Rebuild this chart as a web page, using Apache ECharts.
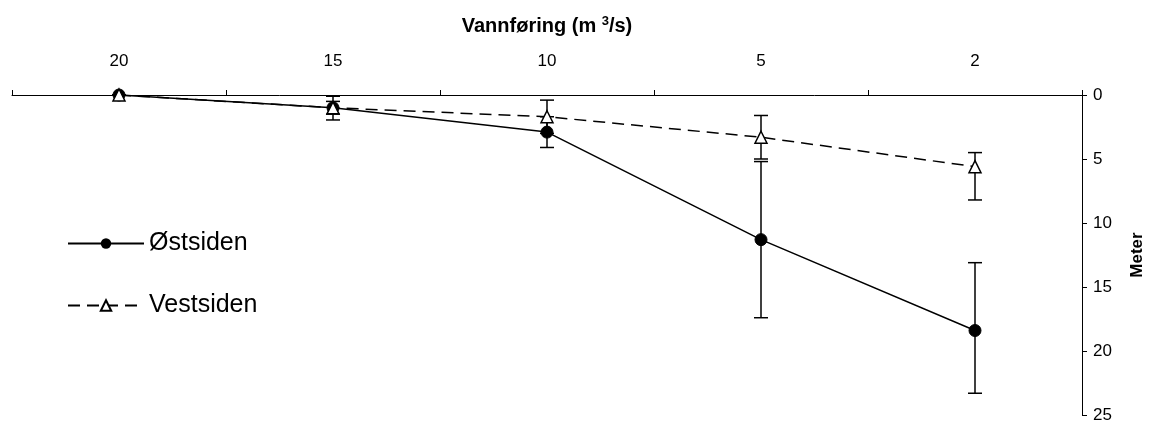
<!DOCTYPE html>
<html>
<head>
<meta charset="utf-8">
<script src="https://cdn.jsdelivr.net/npm/echarts@6/dist/echarts.min.js"></script>
<style>
html,body{margin:0;padding:0;background:#fff;}
#chart{width:1149px;height:422px;}
</style>
</head>
<body>
<div id="chart"></div>
<script>
const categories = ['20', '15', '10', '5', '2'];
const eastValues = [0, 1.0, 2.9, 11.3, 18.4];
const eastLow = [0, 0.1, 1.7, 5.2, 13.1];
const eastHigh = [0, 1.95, 4.1, 17.4, 23.3];
const westValues = [0, 1.0, 1.7, 3.3, 5.6];
const westLow = [0, 0.5, 0.4, 1.6, 4.5];
const westHigh = [0, 1.5, 3.0, 5.0, 8.2];
const yTicks = [0, 5, 10, 15, 20, 25];

const FONT = 'Liberation Sans, Arial, sans-serif';
const chart = echarts.init(document.getElementById('chart'), null, {renderer: 'canvas'});

function errData(lows, highs) {
  return lows.map((v, i) => [i, v, highs[i]]);
}
function errRender(params, api) {
  const x = api.value(0);
  const lo = api.coord([x, api.value(1)]);
  const hi = api.coord([x, api.value(2)]);
  const w = 7;
  const style = {stroke: '#000', lineWidth: 1.5};
  return {
    type: 'group',
    children: [
      {type: 'line', shape: {x1: lo[0], y1: lo[1], x2: hi[0], y2: hi[1]}, style},
      {type: 'line', shape: {x1: lo[0] - w, y1: lo[1], x2: lo[0] + w, y2: lo[1]}, style},
      {type: 'line', shape: {x1: hi[0] - w, y1: hi[1], x2: hi[0] + w, y2: hi[1]}, style}
    ]
  };
}

const option = {
  animation: false,
  backgroundColor: '#fff',
  textStyle: {fontFamily: FONT},
  grid: {left: 12, right: 67, top: 95, bottom: 7, containLabel: false, outerBoundsMode: 'none'},
  legend: {
    data: ['Østsiden', 'Vestsiden'],
    orient: 'vertical',
    left: 62,
    top: 226,
    itemWidth: 76,
    itemHeight: 13,
    itemGap: 37,
    textStyle: {fontFamily: FONT, fontSize: 25, color: '#000'},
    inactiveColor: '#000'
  },
  xAxis: {
    type: 'category',
    position: 'top',
    data: categories,
    boundaryGap: true,
    name: '{b|Vannføring (m }{sup|3}{b|/s)}',
    nameLocation: 'middle',
    nameGap: 58,
    nameTextStyle: {
      fontFamily: FONT, fontSize: 20, fontWeight: 'bold', color: '#000',
      rich: {
        b: {fontFamily: FONT, fontSize: 20, fontWeight: 'bold', color: '#000', lineHeight: 22},
        sup: {fontFamily: FONT, fontSize: 13, fontWeight: 'bold', color: '#000', verticalAlign: 'top', lineHeight: 22, padding: [0, 0, 8, 0]}
      }
    },
    axisLine: {show: true, lineStyle: {color: '#000', width: 1}},
    axisTick: {show: true, alignWithLabel: false, length: 5, lineStyle: {color: '#000'}},
    axisLabel: {fontFamily: FONT, fontSize: 17, color: '#000', margin: 25},
    splitLine: {show: false}
  },
  yAxis: {
    type: 'value',
    position: 'right',
    inverse: true,
    min: 0,
    max: 25,
    interval: 5,
    name: 'Meter',
    nameLocation: 'middle',
    nameGap: 47,
    nameRotate: 90,
    nameTextStyle: {fontFamily: FONT, fontSize: 17, fontWeight: 'bold', color: '#000'},
    axisLine: {show: true, lineStyle: {color: '#000', width: 1}},
    axisTick: {show: true, length: 5, lineStyle: {color: '#000'}},
    axisLabel: {fontFamily: FONT, fontSize: 17, color: '#000', margin: 11,
      formatter: v => yTicks.includes(v) ? String(v) : ''},
    splitLine: {show: false}
  },
  series: [
    {
      name: 'Østsiden errors',
      type: 'custom',
      renderItem: errRender,
      data: errData(eastLow, eastHigh),
      z: 1
    },
    {
      name: 'Vestsiden errors',
      type: 'custom',
      renderItem: errRender,
      data: errData(westLow, westHigh),
      z: 1
    },
    {
      name: 'Østsiden',
      type: 'line',
      data: eastValues,
      symbol: 'circle',
      symbolSize: 12,
      itemStyle: {color: '#000', borderColor: '#000'},
      lineStyle: {color: '#000', width: 1.5, type: 'solid'},
      z: 3
    },
    {
      name: 'Vestsiden',
      type: 'line',
      data: westValues,
      symbol: 'triangle',
      symbolSize: 12,
      itemStyle: {color: '#fff', borderColor: '#000', borderWidth: 1.5},
      lineStyle: {color: '#000', width: 1.5, type: [12, 7]},
      z: 4
    }
  ]
};
chart.setOption(option);
</script>
</body>
</html>
